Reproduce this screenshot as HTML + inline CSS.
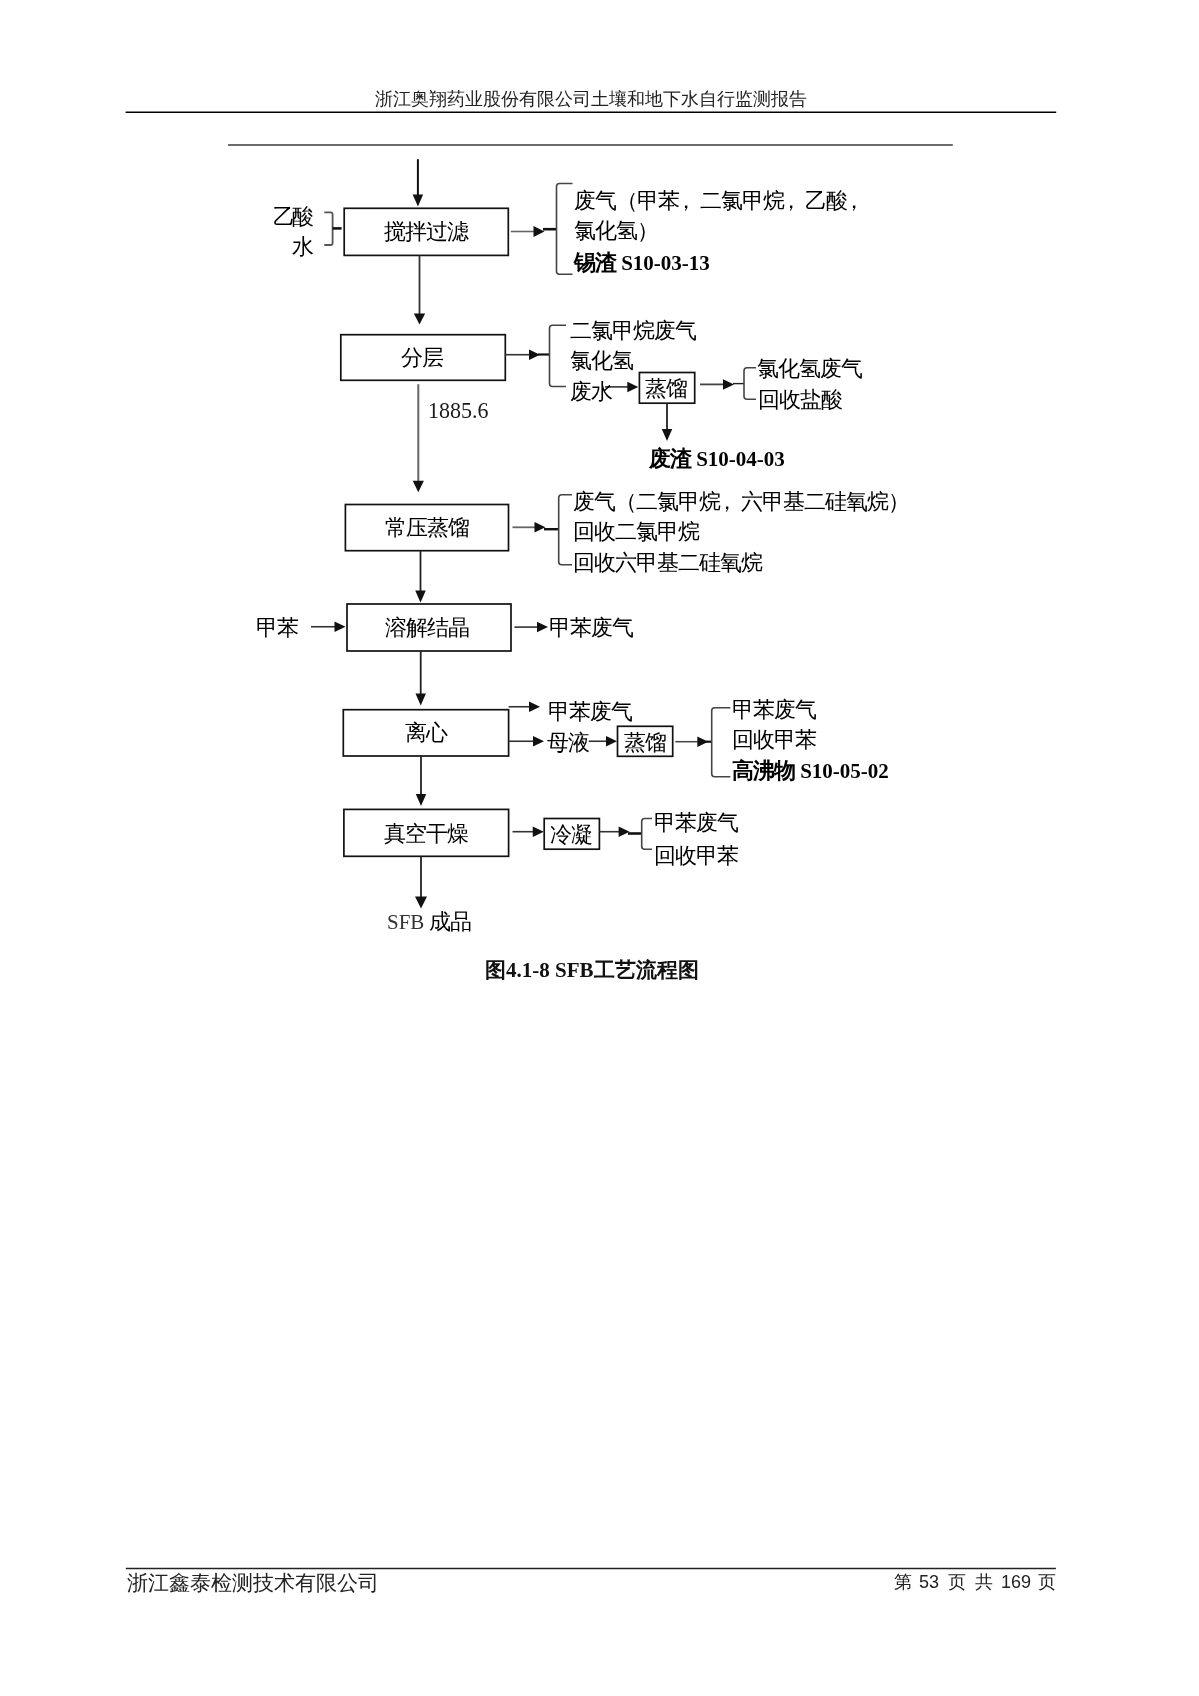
<!DOCTYPE html>
<html><head><meta charset="utf-8">
<style>
html,body{margin:0;padding:0;background:#fff;-webkit-font-smoothing:antialiased;}
body{width:1199px;height:1696px;position:relative;overflow:hidden;}
.t,.hd,.cap{will-change:transform;}
.t{position:absolute;white-space:nowrap;font-family:"Liberation Sans",sans-serif;font-size:22px;line-height:22px;letter-spacing:-1px;color:#000;}
.t b{font-weight:bold;}
.cm{position:relative;left:-4.5px;}
.s{font-family:"Liberation Serif",serif;font-size:21px;letter-spacing:0;}
.cap{position:absolute;white-space:nowrap;font-family:"Liberation Serif",serif;font-size:21px;line-height:21px;font-weight:bold;color:#111;}
.hd{position:absolute;white-space:nowrap;font-family:"Liberation Serif",serif;color:#222;}
svg{position:absolute;left:0;top:0;}
</style></head><body>
<div class="hd" style="left:374.5px;top:90px;font-size:18.1px;line-height:18px;">浙江奥翔药业股份有限公司土壤和地下水自行监测报告</div>
<div class="cap" style="left:485px;top:960px;">图4.1-8 SFB工艺流程图</div>
<div class="hd" style="left:126.5px;top:1573px;font-size:21.1px;line-height:21px;">浙江鑫泰检测技术有限公司</div>
<div class="hd" style="left:893.6px;top:1572.5px;font-size:18px;line-height:18px;">第</div>
<div class="hd" style="left:919px;top:1572.5px;font-size:18px;line-height:18px;font-family:'Liberation Sans',sans-serif;">53</div>
<div class="hd" style="left:947.5px;top:1572.5px;font-size:18px;line-height:18px;">页</div>
<div class="hd" style="left:974.5px;top:1572.5px;font-size:18px;line-height:18px;">共</div>
<div class="hd" style="left:1001px;top:1572.5px;font-size:18px;line-height:18px;font-family:'Liberation Sans',sans-serif;">169</div>
<div class="hd" style="left:1037.5px;top:1572.5px;font-size:18px;line-height:18px;">页</div>
<svg width="1199" height="1696" viewBox="0 0 1199 1696">
<line x1="125.6" y1="112.3" x2="1056.2" y2="112.3" stroke="#000" stroke-width="1.6"/>
<line x1="228" y1="144.9" x2="952.8" y2="144.9" stroke="#6b6b6b" stroke-width="2"/>
<line x1="125.8" y1="1568.4" x2="1055.9" y2="1568.4" stroke="#222" stroke-width="1.5"/>
<line x1="417.9" y1="159.2" x2="417.9" y2="200.5" stroke="#111" stroke-width="2"/><polygon points="412.65,194.50 423.15,194.50 417.90,206.50" fill="#111"/><rect x="344.2" y="208.3" width="164.10" height="47.10" fill="none" stroke="#111" stroke-width="1.7"/><path d="M324.3,212.4 L330.6,212.4 Q332.6,212.4 332.6,214.4 L332.6,243 Q332.6,245 330.6,245 L324.3,245" fill="none" stroke="#555" stroke-width="1.8"/><line x1="332.6" y1="228.4" x2="341.6" y2="228.4" stroke="#111" stroke-width="2.6"/><line x1="510.8" y1="231.5" x2="538.5" y2="231.5" stroke="#666" stroke-width="1.6"/><polygon points="533.50,226.00 533.50,237.00 544.50,231.50" fill="#111"/><line x1="543" y1="229.2" x2="556.5" y2="229.2" stroke="#111" stroke-width="2.6"/><path d="M572.5,183.5 L559.5,183.5 Q556.5,183.5 556.5,186.5 L556.5,271.2 Q556.5,274.2 559.5,274.2 L572.5,274.2" fill="none" stroke="#444" stroke-width="1.6"/><line x1="419.5" y1="255.4" x2="419.5" y2="318.5" stroke="#333" stroke-width="1.8"/><polygon points="413.85,313.50 425.15,313.50 419.50,324.50" fill="#111"/><rect x="340.8" y="334.7" width="164.50" height="45.60" fill="none" stroke="#111" stroke-width="1.7"/><line x1="505.3" y1="354.7" x2="534" y2="354.7" stroke="#333" stroke-width="1.6"/><polygon points="529.00,349.45 529.00,359.95 540.00,354.70" fill="#111"/><line x1="538" y1="354.5" x2="549.5" y2="354.5" stroke="#111" stroke-width="2.2"/><path d="M566,325.3 L552.5,325.3 Q549.5,325.3 549.5,328.3 L549.5,383.5 Q549.5,386.5 552.5,386.5 L566,386.5" fill="none" stroke="#444" stroke-width="1.6"/><line x1="605" y1="386.9" x2="632.3" y2="386.9" stroke="#333" stroke-width="1.6"/><polygon points="627.30,381.65 627.30,392.15 638.30,386.90" fill="#111"/><rect x="639.4" y="372.5" width="55.30" height="30.70" fill="none" stroke="#111" stroke-width="1.7"/><line x1="667" y1="403.2" x2="667" y2="435" stroke="#222" stroke-width="1.8"/><polygon points="661.75,429.00 672.25,429.00 667.00,441.00" fill="#111"/><line x1="700" y1="384.4" x2="728" y2="384.4" stroke="#444" stroke-width="1.8"/><polygon points="723.00,379.15 723.00,389.65 734.00,384.40" fill="#111"/><line x1="733" y1="383.6" x2="744" y2="383.6" stroke="#222" stroke-width="1.4"/><path d="M756,367.8 L747,367.8 Q744,367.8 744,370.8 L744,396.2 Q744,399.2 747,399.2 L756,399.2" fill="none" stroke="#444" stroke-width="1.6"/><line x1="418.3" y1="384.2" x2="418.3" y2="486" stroke="#666" stroke-width="2"/><polygon points="412.70,480.80 423.90,480.80 418.30,492.30" fill="#111"/><rect x="345.4" y="504.5" width="163.10" height="46.20" fill="none" stroke="#111" stroke-width="1.7"/><line x1="512.5" y1="527.3" x2="539.5" y2="527.3" stroke="#666" stroke-width="1.8"/><polygon points="534.50,522.05 534.50,532.55 545.50,527.30" fill="#111"/><line x1="544" y1="529.2" x2="558.7" y2="529.2" stroke="#111" stroke-width="2.4"/><path d="M572,494.8 L561.7,494.8 Q558.7,494.8 558.7,497.8 L558.7,561.8 Q558.7,564.8 561.7,564.8 L572,564.8" fill="none" stroke="#444" stroke-width="1.6"/><line x1="420.5" y1="550.7" x2="420.5" y2="596.5" stroke="#222" stroke-width="1.8"/><polygon points="415.25,590.50 425.75,590.50 420.50,602.50" fill="#111"/><rect x="347" y="604" width="164.00" height="47.00" fill="none" stroke="#111" stroke-width="1.7"/><line x1="311" y1="626.75" x2="339.5" y2="626.75" stroke="#333" stroke-width="1.6"/><polygon points="334.50,621.50 334.50,632.00 345.50,626.75" fill="#111"/><line x1="514.4" y1="627.1" x2="542" y2="627.1" stroke="#333" stroke-width="1.6"/><polygon points="537.00,621.85 537.00,632.35 548.00,627.10" fill="#111"/><line x1="420.7" y1="651" x2="420.7" y2="699.5" stroke="#222" stroke-width="1.8"/><polygon points="415.45,693.50 425.95,693.50 420.70,705.50" fill="#111"/><rect x="343.3" y="709.7" width="165.30" height="46.30" fill="none" stroke="#111" stroke-width="1.7"/><line x1="508.6" y1="706.75" x2="534" y2="706.75" stroke="#333" stroke-width="1.6"/><polygon points="529.00,701.50 529.00,712.00 540.00,706.75" fill="#111"/><line x1="508.6" y1="741.25" x2="538" y2="741.25" stroke="#333" stroke-width="1.6"/><polygon points="533.00,736.00 533.00,746.50 544.00,741.25" fill="#111"/><line x1="588.75" y1="741.25" x2="611" y2="741.25" stroke="#333" stroke-width="1.6"/><polygon points="606.00,736.00 606.00,746.50 617.00,741.25" fill="#111"/><rect x="617.5" y="726.3" width="55.20" height="30.00" fill="none" stroke="#111" stroke-width="1.7"/><line x1="675.3" y1="741.7" x2="702.3" y2="741.7" stroke="#444" stroke-width="1.5"/><polygon points="697.30,736.45 697.30,746.95 708.30,741.70" fill="#111"/><line x1="706" y1="741.7" x2="711.7" y2="741.7" stroke="#111" stroke-width="2.2"/><path d="M730.3,707.8 L714.7,707.8 Q711.7,707.8 711.7,710.8 L711.7,773.8 Q711.7,776.8 714.7,776.8 L730.3,776.8" fill="none" stroke="#444" stroke-width="1.6"/><line x1="421" y1="756" x2="421" y2="800" stroke="#222" stroke-width="1.8"/><polygon points="415.75,794.00 426.25,794.00 421.00,806.00" fill="#111"/><rect x="343.9" y="809.4" width="164.70" height="46.90" fill="none" stroke="#111" stroke-width="1.7"/><line x1="512.5" y1="831.7" x2="537.75" y2="831.7" stroke="#333" stroke-width="1.6"/><polygon points="532.75,826.45 532.75,836.95 543.75,831.70" fill="#111"/><rect x="544.2" y="818.5" width="55.20" height="30.70" fill="none" stroke="#111" stroke-width="1.7"/><line x1="599.4" y1="831.7" x2="623.6" y2="831.7" stroke="#333" stroke-width="1.6"/><polygon points="618.60,826.45 618.60,836.95 629.60,831.70" fill="#111"/><line x1="628" y1="833.5" x2="641.7" y2="833.5" stroke="#111" stroke-width="2.6"/><path d="M652,818.5 L644.7,818.5 Q641.7,818.5 641.7,821.5 L641.7,846.2 Q641.7,849.2 644.7,849.2 L652,849.2" fill="none" stroke="#444" stroke-width="1.6"/><line x1="421" y1="856.3" x2="421" y2="902.5" stroke="#222" stroke-width="1.8"/><polygon points="415.00,896.50 427.00,896.50 421.00,908.50" fill="#111"/>
</svg>
<div class="t" style="left:383.5px;top:221.2px">搅拌过滤</div><div class="t" style="left:272.5px;top:206.3px"><span style="letter-spacing:-3px">乙酸</span></div><div class="t" style="left:291.5px;top:236.0px">水</div><div class="t" style="left:574.3px;top:189.7px">废气（甲苯<span class="cm">，</span>二氯甲烷<span class="cm">，</span>乙酸<span class="cm">，</span></div><div class="t" style="left:574.3px;top:220.1px">氯化氢）</div><div class="t" style="left:574.0px;top:251.7px"><b>锡渣 <span class="s">S10-03-13</span></b></div><div class="t" style="left:400.8px;top:347.2px">分层</div><div class="t" style="left:570px;top:319.7px">二氯甲烷废气</div><div class="t" style="left:570px;top:350.0px">氯化氢</div><div class="t" style="left:570px;top:381.0px">废水</div><div class="t" style="left:645px;top:378.1px">蒸馏</div><div class="t" style="left:649px;top:447.7px"><b>废渣 <span class="s">S10-04-03</span></b></div><div class="t" style="left:756.8px;top:357.5px">氯化氢废气</div><div class="t" style="left:757.6px;top:389.0px">回收盐酸</div><div class="t" style="left:427.5px;top:399.7px"><span class="s" style="color:#1a1a1a;font-size:22px;display:inline-block;transform:scaleY(1.08);transform-origin:0 100%">1885.6</span></div><div class="t" style="left:384.5px;top:517.3px">常压蒸馏</div><div class="t" style="left:573.2px;top:490.5px">废气（二氯甲烷<span class="cm">，</span>六甲基二硅氧烷）</div><div class="t" style="left:573.2px;top:520.8px">回收二氯甲烷</div><div class="t" style="left:573.2px;top:552.2px">回收六甲基二硅氧烷</div><div class="t" style="left:385px;top:616.5px">溶解结晶</div><div class="t" style="left:256px;top:617.2px">甲苯</div><div class="t" style="left:548.7px;top:617.4px">甲苯废气</div><div class="t" style="left:405px;top:721.6px">离心</div><div class="t" style="left:548px;top:700.7px">甲苯废气</div><div class="t" style="left:547px;top:732.2px">母液</div><div class="t" style="left:623.5px;top:732.4px">蒸馏</div><div class="t" style="left:731.8px;top:698.7px">甲苯废气</div><div class="t" style="left:731.8px;top:729.4px">回收甲苯</div><div class="t" style="left:731.8px;top:760.2px"><b>高沸物 <span class="s">S10-05-02</span></b></div><div class="t" style="left:384px;top:822.9px">真空干燥</div><div class="t" style="left:550.3px;top:824.4px">冷凝</div><div class="t" style="left:654.2px;top:812.4px">甲苯废气</div><div class="t" style="left:654.2px;top:844.7px">回收甲苯</div><div class="t" style="left:386.5px;top:910.7px"><span class="s" style="color:#333">SFB</span> 成品</div>
</body></html>
